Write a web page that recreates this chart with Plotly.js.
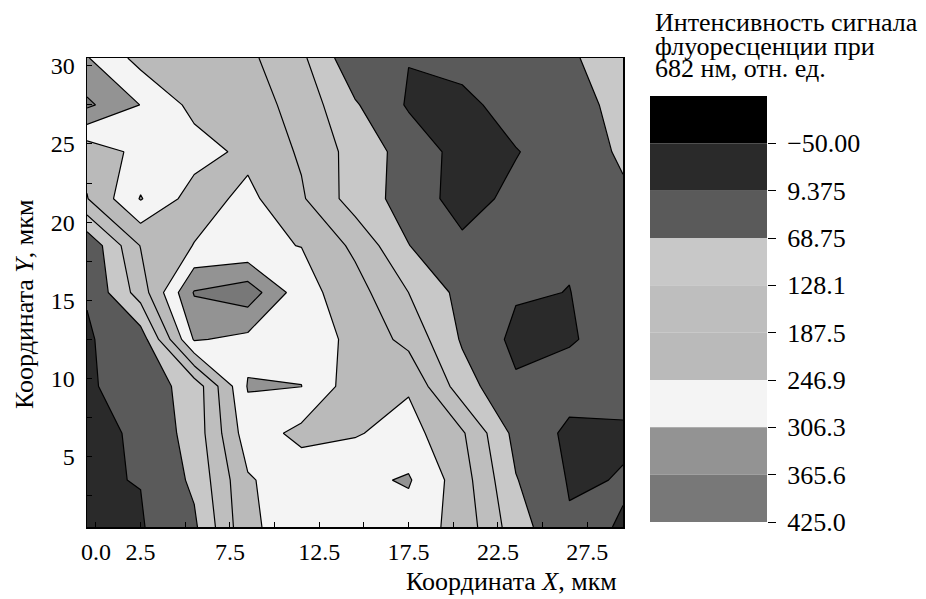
<!DOCTYPE html>
<html><head><meta charset="utf-8">
<script src="https://cdn.plot.ly/plotly-3.0.1.min.js"></script>
<style>html,body{margin:0;padding:0;background:#fff}#chart{width:926px;height:599px}</style>
</head><body><div id="chart"></div>
<script>
// grid coordinates (µm)
const xCoords = [-0.5, 2.5, 5.5, 8.5, 11.5, 14.5, 17.5, 20.5, 23.5, 26.5, 29.5];
const yCoords = [0.5, 3.5, 6.5, 9.5, 12.5, 15.5, 18.5, 21.5, 24.5, 27.5, 30.5];
// fluorescence intensity, one array per row (bottom to top)
const row00 = [-30, 5, 58, 235, 280, 290, 280, 225, 95, 15, 8];
const row01 = [6, 10.5, 80, 240, 285, 293, 312, 215, 72, 5, 11];
const row02 = [-20, 25, 90, 280, 230, 242, 270, 195, 50, -2, 6];
const row03 = [1, 40, 90, 310, 307, 213, 240, 95, 17.5, 31, 18];
const row04 = [5, 35, 312, 290, 285, 230, 170, 62, -5, 5, 30];
const row05 = [12, 155, 370, 400, 270, 212, 128, 50, 15, 8.5, 35];
const row06 = [20, 190, 249, 254, 246, 175, 70, 22, 30, 14, 50];
const row07 = [185, 310, 220, 262, 195, 100, 45, -16, 26, 35, 62];
const row08 = [207, 265, 272, 232, 180, 105, 45, -12, 6, 45, 75];
const row09 = [377, 305, 230, 215, 165, 75, 3, -10, 40, 42, 90];
const row10 = [310, 227, 215, 200, 140, 25, 11, 35, 40, 61, 100];
const intensity = [row00, row01, row02, row03, row04, row05, row06, row07, row08, row09, row10];

// contour levels and legend
const levels = [-50, 9.375, 68.75, 128.125, 187.5, 246.875, 306.25, 365.625, 425];
const levelLabels = ['\u221250.00', '9.375', '68.75', '128.1', '187.5', '246.9', '306.3', '365.6', '425.0'];
const bandColors = ['#000000', '#2a2a2a', '#5a5a5a', '#c8c8c8', '#bebebe', '#bababa', '#f4f4f4', '#939393', '#787878'];

const xTickVals = [0, 2.5, 5, 7.5, 10, 12.5, 15, 17.5, 20, 22.5, 25, 27.5];
const xTickText = ['0.0', '2.5', '', '7.5', '', '12.5', '', '17.5', '', '22.5', '', '27.5'];
const yTickVals = [2.5, 5, 7.5, 10, 12.5, 15, 17.5, 20, 22.5, 25, 27.5, 30];
const yTickText = ['', '5', '', '10', '', '15', '', '20', '', '25', '', '30'];

const step = levels[1] - levels[0];
const nBands = levels.length;
const colorscale = [];
for (let k = 0; k <= nBands; k++) {
  colorscale.push([k / nBands, bandColors[Math.min(k, bandColors.length - 1)]]);
}
const bandBase = [levels[0] - step].concat(levels.slice(0, levels.length - 1));
const bandSize = bandBase.map(() => step);

const font = 'Liberation Serif';

const contour = {
  type: 'contour', x: xCoords, y: yCoords, z: intensity,
  autocontour: false,
  contours: {start: levels[0], end: levels[levels.length - 1], size: step, coloring: 'fill', showlines: true},
  line: {color: '#000', width: 1.2, smoothing: 0},
  colorscale: colorscale, showscale: false, hoverinfo: 'skip'
};
const legendBar = {
  type: 'bar', xaxis: 'x2', yaxis: 'y2',
  x: bandBase.map(() => 0), y: bandSize, base: bandBase, width: 1,
  marker: {color: bandColors, line: {width: 0}}, hoverinfo: 'skip'
};

const W = 926, H = 599;
const tf = (s) => ({family: font, size: s, color: '#000'});
const layout = {
  width: W, height: H, margin: {l: 0, r: 0, t: 0, b: 0},
  paper_bgcolor: '#fff', plot_bgcolor: '#fff', showlegend: false, barmode: 'overlay',
  font: tf(24),
  xaxis: {
    domain: [87 / W, 623 / W], range: [-0.5, 29.5], showgrid: false, zeroline: false,
    showline: true, linecolor: '#000', linewidth: 1.5, mirror: true,
    ticks: 'inside', ticklen: 5, tickcolor: '#000', tickvals: xTickVals, ticktext: xTickText,
    tickfont: tf(24), ticklabelstandoff: 3
  },
  yaxis: {
    domain: [72 / H, 541 / H], range: [0.5, 30.5], showgrid: false, zeroline: false,
    showline: true, linecolor: '#000', linewidth: 1.5, mirror: true,
    ticks: 'inside', ticklen: 5, tickcolor: '#000', tickvals: yTickVals, ticktext: yTickText,
    tickfont: tf(24), ticklabelstandoff: 6
  },
  xaxis2: {domain: [650 / W, 767 / W], range: [-0.5, 0.5], visible: false, anchor: 'y2'},
  yaxis2: {
    domain: [77 / H, 503 / H], range: [levels[levels.length - 1], levels[0] - step],
    anchor: 'x2', side: 'right', showgrid: false, zeroline: false, showline: false,
    ticks: 'outside', ticklen: 8, tickcolor: '#000', tickvals: levels, ticktext: levelLabels,
    tickfont: tf(26), ticklabelstandoff: 6
  },
  annotations: [
    {text: 'Интенсивность сигнала', xref: 'paper', yref: 'paper', x: 653 / W, y: (H - 23) / H, xanchor: 'left', yanchor: 'middle', showarrow: false, font: tf(26)},
    {text: 'флуоресценции при', xref: 'paper', yref: 'paper', x: 653 / W, y: (H - 46) / H, xanchor: 'left', yanchor: 'middle', showarrow: false, font: tf(26)},
    {text: '682 нм, отн. ед.', xref: 'paper', yref: 'paper', x: 653 / W, y: (H - 69) / H, xanchor: 'left', yanchor: 'middle', showarrow: false, font: tf(26)},
    {text: 'Координата <i>X</i>, мкм', xref: 'paper', yref: 'paper', x: 619 / W, y: (H - 581) / H, xanchor: 'right', yanchor: 'middle', showarrow: false, font: tf(26)},
    {text: 'Координата <i>Y</i>, мкм', xref: 'paper', yref: 'paper', x: 24 / W, y: (H - 305) / H, xanchor: 'center', yanchor: 'middle', textangle: -90, showarrow: false, font: tf(26)}
  ]
};
Plotly.newPlot('chart', [contour, legendBar], layout, {displayModeBar: false, staticPlot: true});
</script>
</body></html>
